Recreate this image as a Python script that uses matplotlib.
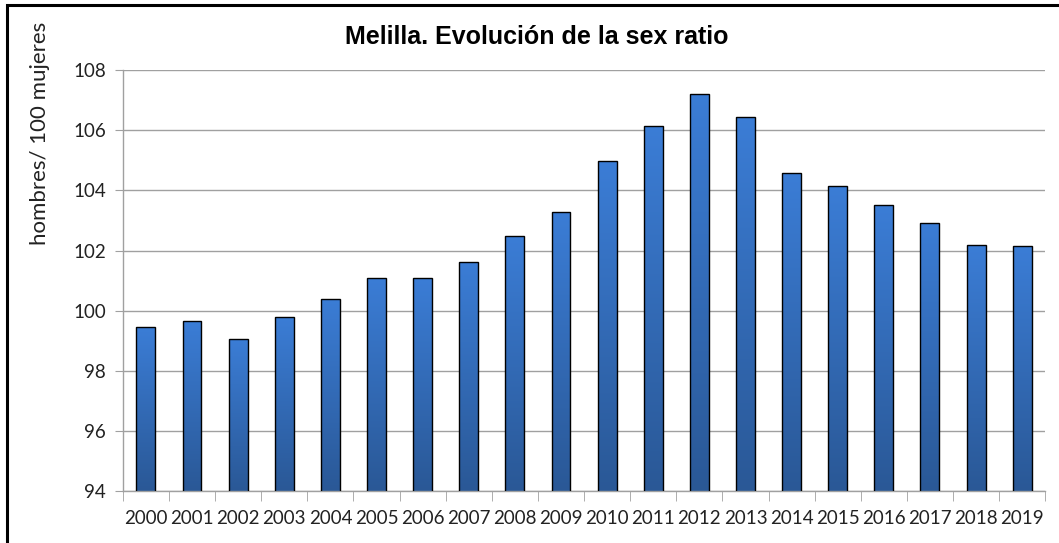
import numpy as np
import matplotlib
matplotlib.use("Agg")
import matplotlib.pyplot as plt
from matplotlib.patches import Rectangle
from matplotlib.colors import LinearSegmentedColormap

# data
years = ["2000", "2001", "2002", "2003", "2004", "2005", "2006", "2007", "2008", "2009",
         "2010", "2011", "2012", "2013", "2014", "2015", "2016", "2017", "2018", "2019"]
sex_ratio = [99.45, 99.65, 99.05, 99.8, 100.4, 101.1, 101.08, 101.62, 102.48, 103.28,
             104.97, 106.14, 107.2, 106.44, 104.57, 104.14, 103.5, 102.92, 102.18, 102.15]
y_ticks = [94, 96, 98, 100, 102, 104, 106, 108]

fig = plt.figure(figsize=(10.59, 5.43), dpi=100)
ax = fig.add_axes([0.116, 0.0958, 0.871, 0.775])

x = np.arange(len(years))
bars = ax.bar(x, sex_ratio, width=0.41, bottom=0, color="none",
              edgecolor="black", linewidth=1.0, zorder=3)

# vertical gradient fill for each bar
cmap = LinearSegmentedColormap.from_list("blu", ["#2a5896", "#3b7dd6"])
grad = np.linspace(0, 1, 256).reshape(-1, 1)
for b in bars:
    x0 = b.get_x()
    w = b.get_width()
    top = b.get_height()
    im = ax.imshow(grad, cmap=cmap, origin="lower", aspect="auto",
                   extent=[x0, x0 + w, 94, top], zorder=2)
    im.set_clip_path(b)

ax.set_xlim(-0.5, len(years) - 0.5)
ax.set_ylim(94, 108)
ax.set_yticks(y_ticks)
ax.set_xticks(x)
ax.set_xticklabels(years)
ax.set_xticks(np.arange(-0.5, len(years)), minor=True)
ax.tick_params(axis="x", which="major", length=0, pad=14, labelsize=13.5)
ax.tick_params(axis="x", which="minor", length=7, color="#a0a0a0")
ax.tick_params(axis="y", length=6, color="#a0a0a0", labelsize=13.5, pad=6)
for lab in ax.get_xticklabels() + ax.get_yticklabels():
    lab.set_family("Lato")
    lab.set_color("#222222")

ax.grid(axis="y", color="#a0a0a0", linewidth=1.0, zorder=0)
ax.set_axisbelow(True)
for s in ["top", "right"]:
    ax.spines[s].set_visible(False)
for s in ["left", "bottom"]:
    ax.spines[s].set_color("#a0a0a0")
    ax.spines[s].set_linewidth(1.0)

fig.text(0.507, 0.932, "Melilla. Evolución de la sex ratio", ha="center", va="center",
         fontsize=18, fontweight="bold", family="Liberation Sans")
fig.text(0.038, 0.755, "hombres/ 100 mujeres", rotation=90, ha="center", va="center",
         fontsize=16, family="Lato", color="#222222")

# frame around the chart (cut by the image edge at right and bottom)
fig.patches.append(Rectangle((0.0066, -0.05), 1.1, 1.041, transform=fig.transFigure,
                             fill=False, edgecolor="black", linewidth=2.2))

fig.savefig("out.png", dpi=100)
